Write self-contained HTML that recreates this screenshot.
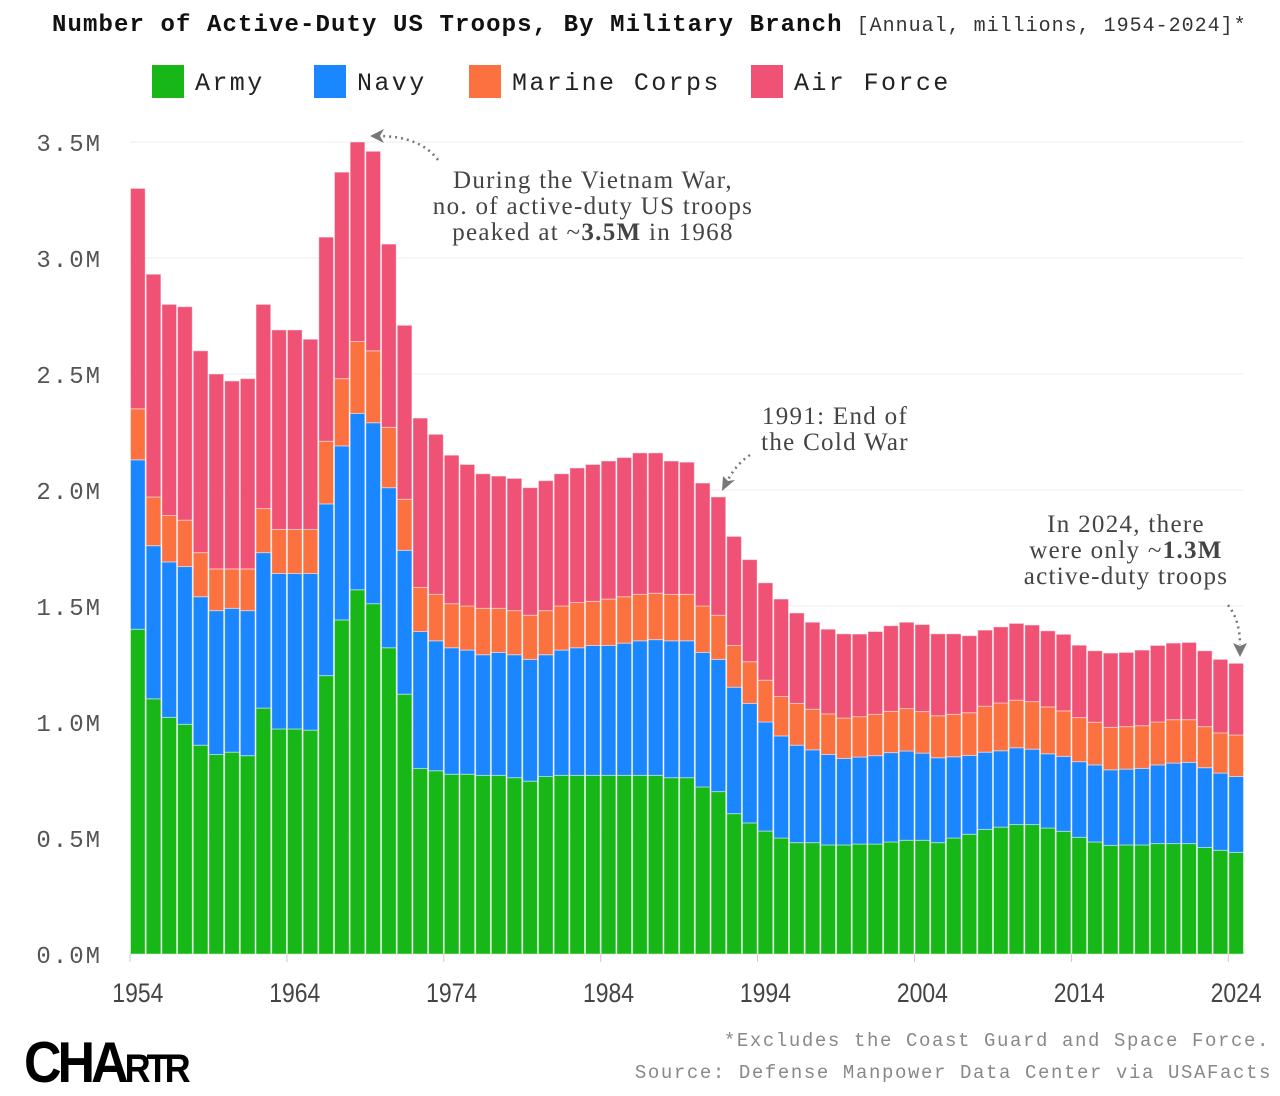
<!DOCTYPE html>
<html><head><meta charset="utf-8"><style>
body{margin:0;background:#fff;width:1280px;height:1096px;overflow:hidden;}
svg{display:block}
.mono{font-family:"Liberation Mono",monospace}
.serif{font-family:"Liberation Serif",serif}
</style></head><body>
<svg id="chart" width="1280" height="1096" viewBox="0 0 1280 1096">
<text x="52" y="31" class="mono" font-size="24" font-weight="bold" letter-spacing="1.1" fill="#111">Number of Active-Duty US Troops, By Military Branch<tspan font-weight="normal" font-size="20" letter-spacing="1" fill="#333" dx="14">[Annual, millions, 1954-2024]*</tspan></text>
<g id="legend"></g>
<g id="grid"></g>
<g id="bars"></g>
<g id="axes"></g>
<g class="serif" font-size="25" letter-spacing="1.3" fill="#444" text-anchor="middle">
<text x="593" y="188">During the Vietnam War,<tspan x="593" dy="26">no. of active-duty US troops</tspan><tspan x="593" dy="26">peaked at ~<tspan font-weight="bold">3.5M</tspan> in 1968</tspan></text>
<text x="835" y="424">1991: End of<tspan x="835" dy="26">the Cold War</tspan></text>
<text x="1126" y="532">In 2024, there<tspan x="1126" dy="26">were only ~<tspan font-weight="bold">1.3M</tspan></tspan><tspan x="1126" dy="26">active-duty troops</tspan></text>
<path d="M438,160 Q420,136 378,136" fill="none" stroke="#777" stroke-width="2.5" stroke-dasharray="2,4"/>
<path d="M370,136 L384,129 L380,136 L384,143 Z" fill="#777"/>
<path d="M750,455 Q735,465 727,482" fill="none" stroke="#777" stroke-width="2.5" stroke-dasharray="2,4"/>
<path d="M722,491 L723,476 L728,481 L735,480 Z" fill="#777"/>
<path d="M1228,605 Q1240,620 1240,645" fill="none" stroke="#777" stroke-width="2.5" stroke-dasharray="2,4"/>
<path d="M1240,657 L1233,643 L1240,646 L1247,643 Z" fill="#777"/>
</g>
<g class="mono" font-size="19" fill="#888" letter-spacing="1.6" text-anchor="end">
<text x="1270" y="1046">*Excludes the Coast Guard and Space Force.</text>
<text x="1272" y="1078">Source: Defense Manpower Data Center via USAFacts</text>
</g>
<text x="24" y="1082" font-family="Liberation Sans,sans-serif" font-weight="bold" font-size="52" letter-spacing="-4" fill="#000" transform="translate(24,1082) scale(1,1.1) translate(-24,-1082)">CHA<tspan font-size="36">RTR</tspan></text>
</svg>
<script>
const years=[];for(let y=1954;y<=2024;y++)years.push(y);
const army=[1.40,1.10,1.02,0.99,0.90,0.86,0.87,0.855,1.06,0.97,0.97,0.965,1.20,1.44,1.57,1.51,1.32,1.12,0.80,0.79,0.775,0.775,0.77,0.77,0.76,0.745,0.765,0.77,0.77,0.77,0.77,0.77,0.77,0.77,0.76,0.76,0.72,0.70,0.605,0.565,0.53,0.50,0.48,0.48,0.47,0.47,0.474,0.474,0.483,0.49,0.49,0.48,0.50,0.516,0.537,0.547,0.558,0.558,0.543,0.529,0.503,0.483,0.468,0.47,0.47,0.476,0.476,0.476,0.459,0.447,0.438];
const navy=[0.73,0.66,0.67,0.68,0.64,0.62,0.62,0.625,0.67,0.67,0.67,0.675,0.74,0.75,0.76,0.78,0.69,0.62,0.59,0.56,0.545,0.535,0.52,0.53,0.53,0.525,0.525,0.54,0.55,0.56,0.56,0.57,0.58,0.585,0.59,0.59,0.58,0.57,0.545,0.515,0.47,0.44,0.42,0.40,0.39,0.373,0.375,0.381,0.385,0.385,0.376,0.366,0.35,0.34,0.333,0.329,0.331,0.325,0.32,0.323,0.326,0.332,0.326,0.327,0.33,0.339,0.347,0.35,0.344,0.333,0.327];
const marines=[0.22,0.21,0.20,0.20,0.19,0.18,0.17,0.18,0.19,0.19,0.19,0.19,0.27,0.29,0.31,0.31,0.26,0.22,0.19,0.20,0.19,0.19,0.20,0.19,0.19,0.19,0.19,0.19,0.195,0.19,0.20,0.20,0.20,0.20,0.20,0.20,0.20,0.19,0.18,0.18,0.18,0.17,0.18,0.175,0.175,0.174,0.174,0.178,0.178,0.183,0.179,0.181,0.183,0.184,0.198,0.206,0.205,0.205,0.202,0.196,0.19,0.184,0.183,0.183,0.184,0.185,0.187,0.184,0.177,0.173,0.179];
const airForce=[0.95,0.96,0.91,0.92,0.87,0.84,0.81,0.82,0.88,0.86,0.86,0.82,0.88,0.89,0.86,0.86,0.79,0.75,0.73,0.69,0.64,0.61,0.58,0.57,0.57,0.55,0.56,0.57,0.58,0.59,0.595,0.60,0.61,0.605,0.575,0.57,0.53,0.51,0.47,0.44,0.42,0.42,0.39,0.375,0.365,0.363,0.356,0.357,0.369,0.372,0.375,0.353,0.347,0.332,0.328,0.328,0.331,0.33,0.328,0.33,0.312,0.308,0.32,0.32,0.326,0.33,0.33,0.333,0.327,0.317,0.309];
const yTicks=[0,0.5,1.0,1.5,2.0,2.5,3.0,3.5];
const yTickLabels=["0.0M","0.5M","1.0M","1.5M","2.0M","2.5M","3.0M","3.5M"];
const xTickYears=[1954,1964,1974,1984,1994,2004,2014,2024];
const seriesNames=["Army","Navy","Marine Corps","Air Force"];

const NS="http://www.w3.org/2000/svg";
const colors=["#16b716","#1a86ff","#fb7140","#f05275"];
const X0=130,X1=1244,Y0=954,Y1=142,YMAX=3.5;
const bw=(X1-X0)/years.length;
function y(v){return Y0-(v/YMAX)*(Y0-Y1);}
function xL(i){return X0+i*bw;}
function xC(yr){return X0+(years.indexOf(yr)+0.5)*bw;}
function mk(tag,attrs,parent){const e=document.createElementNS(NS,tag);for(const k in attrs)e.setAttribute(k,attrs[k]);parent.appendChild(e);return e;}

const grid=document.getElementById('grid'),axes=document.getElementById('axes');
yTicks.forEach((t,i)=>{
  const l=mk('line',{x1:X0,x2:X1,y1:y(t),y2:y(t),stroke:t===0?'#ccc':'#eee','stroke-width':1},grid);
  
  
  const tx=mk('text',{x:102,y:y(t)+9,'text-anchor':'end','font-size':24,'letter-spacing':2,fill:'#555',class:'mono'},axes);
  tx.textContent=yTickLabels[i];
  
  
});
xTickYears.forEach(yr=>{
  const xx=xL(years.indexOf(yr));
  const tk=mk('line',{x1:xx,x2:xx,y1:Y0,y2:Y0+8,stroke:'#ccc'},axes);
  
  
  const tx=mk('text',{x:xC(yr),y:1002,'text-anchor':'middle','font-size':27,fill:'#444','font-family':'Liberation Sans,sans-serif',transform:`translate(${xC(yr)},0) scale(0.85,1) translate(${-xC(yr)},0)`},axes);
  tx.textContent=yr;
  
  
});
const bars=document.getElementById('bars');
const series=[army,navy,marines,airForce];
years.forEach((yr,i)=>{
  let base=0;
  series.forEach((s,k)=>{
    const top=base+s[i];
    const r=mk('rect',{x:xL(i)+0.5,y:y(top),width:bw-1,height:y(base)-y(top),fill:colors[k],stroke:'rgba(255,255,255,0.45)','stroke-width':1},bars);
    
    
    base=top;
  });
});
const legend=document.getElementById('legend');
const lx=[152,314,469,751];
seriesNames.forEach((n,k)=>{
  const r=mk('rect',{x:lx[k],y:65,width:32,height:33,fill:colors[k]},legend);
  
  
  const t=mk('text',{x:lx[k]+43,y:90,'font-size':25,'letter-spacing':2.4,fill:'#222',class:'mono'},legend);
  t.textContent=n;
  
  
});
</script>
</body></html>
